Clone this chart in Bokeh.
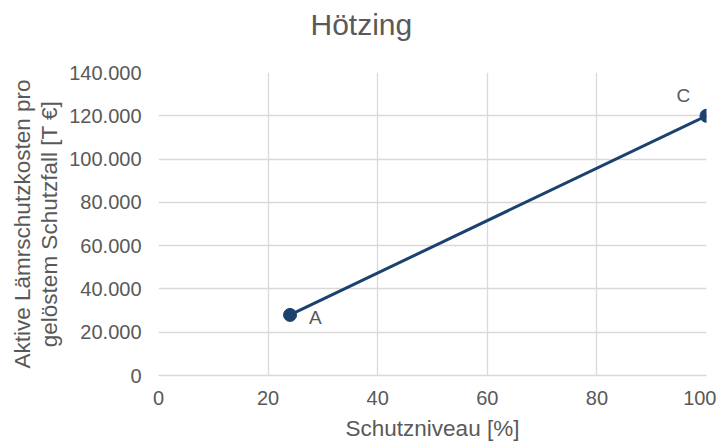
from bokeh.plotting import figure
from bokeh.models import Range1d, CustomJSTickFormatter, FixedTicker, ColumnDataSource, Title
from bokeh.core.properties import value
from bokeh.embed import file_html
from bokeh.resources import INLINE

title_text = "Hötzing"
labels = ["A", "C"]
schutzniveau = [24, 100]
kosten = [28000, 120000]
x_ticks = [0, 20, 40, 60, 80, 100]
y_ticks = [0, 20000, 40000, 60000, 80000, 100000, 120000, 140000]

FONT = "Liberation Sans"
GRAY = "#595959"
GRID = "#d9d9d9"
BLUE = "#1b416f"

p = figure(width=716, height=443, output_backend="svg", toolbar_location=None,
           x_range=Range1d(0, 100), y_range=Range1d(0, 140000),
           min_border_left=158, min_border_right=10, min_border_top=72, min_border_bottom=68)
p.outline_line_color = None

p.title.text = title_text
p.title.align = "left"
p.title.offset = 152
p.title.standoff = 0
p.title.text_font = FONT
p.title.text_font_size = "30px"
p.title.text_font_style = "normal"
p.title.text_color = GRAY

# empty spacer between title and plot area
p.add_layout(Title(text=" ", text_font_size="10px", standoff=19), "above")

for ax in (p.xaxis, p.yaxis):
    ax.axis_line_color = GRID
    ax.axis_line_width = 1.3
    ax.major_tick_line_color = None
    ax.minor_tick_line_color = None
    ax.major_tick_out = 0
    ax.major_tick_in = 0
    ax.minor_tick_out = 0
    ax.major_label_text_font = FONT
    ax.major_label_text_font_size = "20px"
    ax.major_label_text_color = GRAY
    ax.axis_label_text_font = FONT
    ax.axis_label_text_font_size = "22.5px"
    ax.axis_label_text_font_style = "normal"
    ax.axis_label_text_color = GRAY

p.xaxis.major_label_standoff = 15
p.yaxis.major_label_standoff = 17
p.xaxis.axis_label_standoff = 8
p.yaxis.axis_label_standoff = 4
p.yaxis.axis_label_text_line_height = 1.1

p.xaxis.ticker = FixedTicker(ticks=x_ticks)
p.yaxis.ticker = FixedTicker(ticks=y_ticks)
p.yaxis.axis_line_color = None
p.yaxis.formatter = CustomJSTickFormatter(code="""
return String(Math.round(tick)).replace(/\\B(?=(\\d{3})+(?!\\d))/g, ".");
""")
p.xaxis.axis_label = "Schutzniveau [%]"
p.yaxis.axis_label = "Aktive Lämrschutzkosten pro\ngelöstem Schutzfall [T €]"

p.xgrid.grid_line_color = GRID
p.ygrid.grid_line_color = GRID
p.xgrid.grid_line_width = 1.3
p.ygrid.grid_line_width = 1.3

src = ColumnDataSource(dict(x=schutzniveau, y=kosten, label=labels))
p.line("x", "y", source=src, line_color=BLUE, line_width=3)
p.scatter("x", "y", source=src, size=13, color=BLUE)

srcA = ColumnDataSource(dict(x=schutzniveau[:1], y=kosten[:1], label=labels[:1]))
srcC = ColumnDataSource(dict(x=schutzniveau[1:], y=kosten[1:], label=labels[1:]))
p.text("x", "y", text="label", source=srcA, x_offset=19, y_offset=3,
       text_font=value(FONT), text_font_size="19px", text_color=GRAY,
       text_baseline="middle", text_align="left")
p.text("x", "y", text="label", source=srcC, x_offset=-30, y_offset=-20,
       text_font=value(FONT), text_font_size="19px", text_color=GRAY,
       text_baseline="middle", text_align="left")

open("out.html", "w").write(file_html(p, INLINE))
